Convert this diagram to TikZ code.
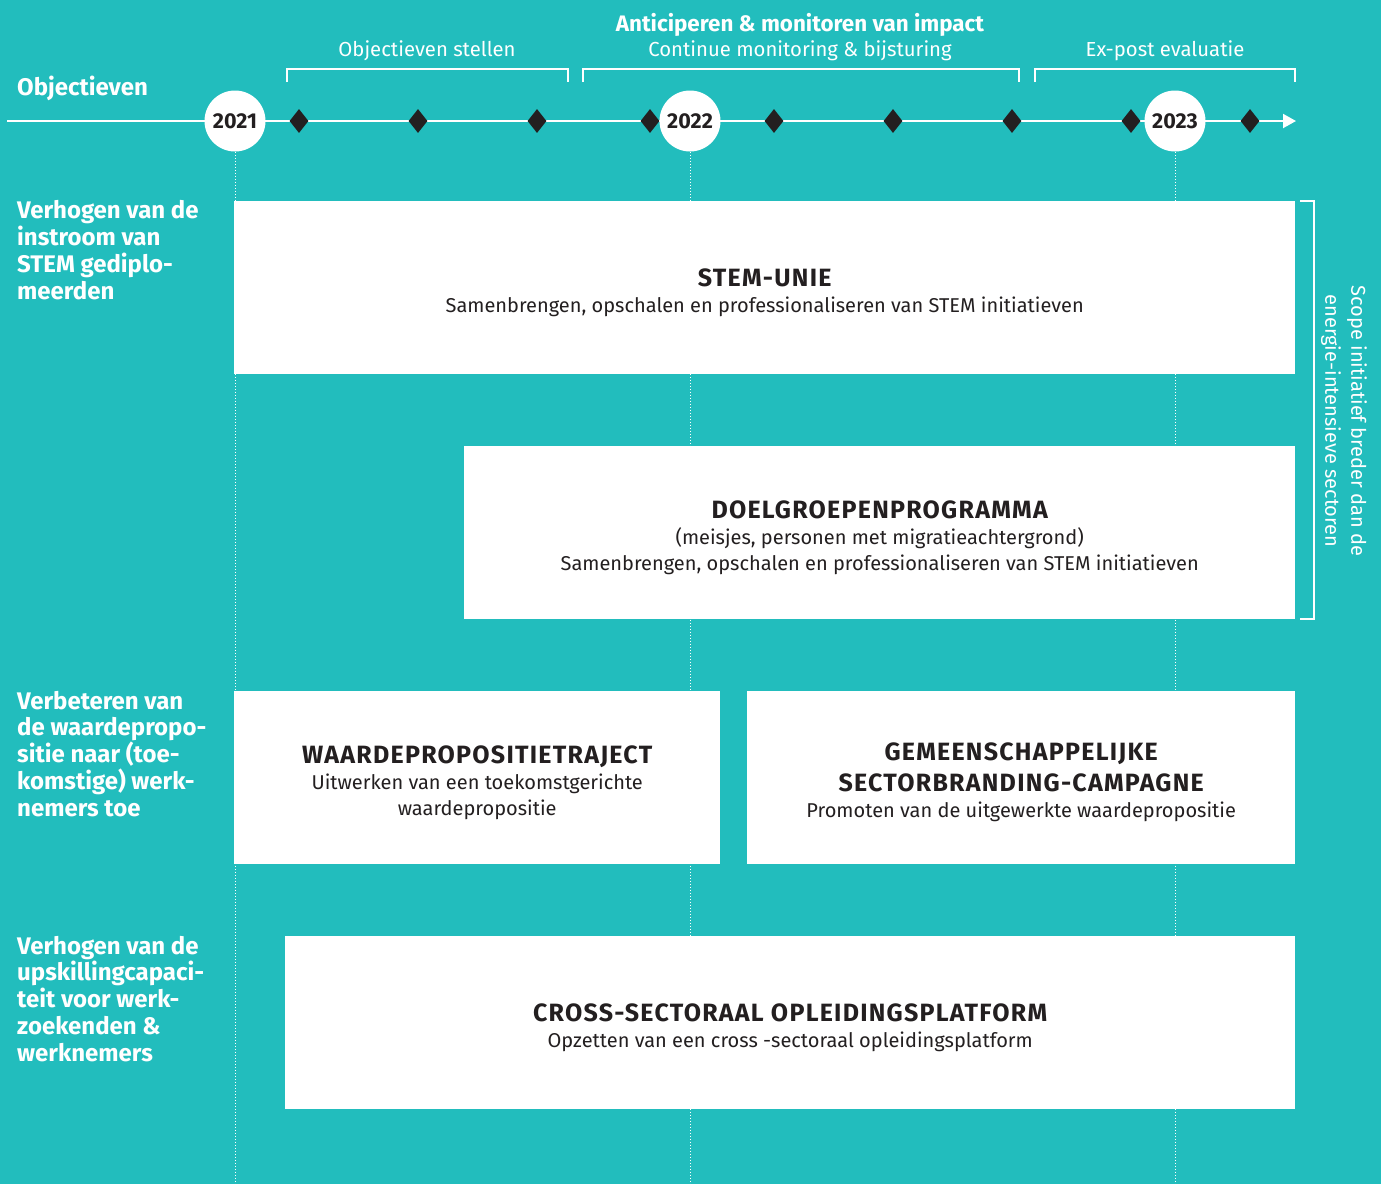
\documentclass[tikz,border=0pt]{standalone}
\usepackage{fontspec}
\setmainfont{Fira Sans}
\usetikzlibrary{shapes.geometric,arrows.meta}
\definecolor{bgteal}{HTML}{22BDBD}
\definecolor{ink}{HTML}{231F20}
\newcommand{\bodyfnt}{\fontsize{20}{26}\selectfont}
\newcommand{\ttlfnt}{\fontsize{25}{26}\selectfont\bfseries\addfontfeatures{LetterSpace=5}}
\begin{document}
\begin{tikzpicture}[x=1pt,y=-1pt,
  yearnode/.style={circle, fill=white, minimum size=61pt, inner sep=0pt, text=ink, font=\fontsize{21.5}{22}\selectfont\bfseries},
  ms/.style={diamond, fill=ink, minimum width=19pt, minimum height=24pt, inner sep=0pt},
  tline/.style={white, line width=2pt},
  guide/.style={white, line width=1pt, dash pattern=on 1pt off 2pt},
  brk/.style={white, line width=2pt},
  wbox/.style={fill=white, inner sep=0pt, anchor=north west},
  btxt/.style={inner sep=0pt, align=center, text=ink, font=\bodyfnt},
  lbl/.style={text=white, align=left, anchor=base west, inner sep=0pt, font=\fontsize{24}{26.7}\selectfont\bfseries},
  toplbl/.style={text=white, inner sep=0pt, font=\fontsize{20.3}{22}\selectfont}
]
\fill[bgteal] (0,0) rectangle (1381,1184);
\useasboundingbox (0,0) rectangle (1381,1184);

% timeline
\coordinate (tl0) at (7,121);
\coordinate (tl1) at (1296,121);
\draw[tline, -{Triangle[length=13pt,width=14pt]}] (tl0) -- (tl1);

\foreach \i/\x in {1/299,2/418,3/537,4/650,5/774,6/893,7/1012,8/1131,9/1250}
  \node[ms] (m\i) at (\x,121) {};

\node[yearnode] (y21) at (235,121) {2021};
\node[yearnode] (y22) at (690,121) {2022};
\node[yearnode] (y23) at (1175,121) {2023};

\coordinate (b21) at (235,1184);
\coordinate (b22) at (690,1184);
\coordinate (b23) at (1175,1184);
\draw[guide] (y21.south) -- (b21);
\draw[guide] (y22.south) -- (b22);
\draw[guide] (y23.south) -- (b23);

% brackets on top
\draw[brk] (287,82) -- (287,69) -- (568,69) -- (568,82);
\draw[brk] (583,82) -- (583,69) -- (1019,69) -- (1019,82);
\draw[brk] (1035,82) -- (1035,69) -- (1295,69) -- (1295,82);

\node[toplbl] (t1) at (427,51) {Objectieven stellen};
\node[toplbl, font=\fontsize{22.4}{24}\selectfont\bfseries] (t2) at (800,25) {Anticiperen \& monitoren van impact};
\node[toplbl] (t3) at (800,51) {Continue monitoring \& bijsturing};
\node[toplbl] (t4) at (1165,51) {Ex-post evaluatie};

\node[lbl] (obj) at (17,95) {Objectieven};

% left labels (base anchor = baseline of last line)
\node[lbl] (l1) at (17,299) {Verhogen van de\\instroom van\\STEM gediplo-\\meerden};
\node[lbl] (l2) at (17,816) {Verbeteren van\\de waardepropo-\\sitie naar (toe-\\komstige) werk-\\nemers toe};
\node[lbl] (l3) at (17,1061) {Verhogen van de\\upskillingcapaci-\\teit voor werk-\\zoekenden \&\\werknemers};

% boxes
\node[wbox, minimum width=1061pt, minimum height=173pt] (stem) at (234,201) {};
\node[wbox, minimum width=831pt, minimum height=173pt] (doel) at (464,446) {};
\node[wbox, minimum width=486pt, minimum height=173pt] (waarde) at (234,691) {};
\node[wbox, minimum width=548pt, minimum height=173pt] (gemeen) at (747,691) {};
\node[wbox, minimum width=1010pt, minimum height=173pt] (cross) at (285,936) {};

\node[btxt] (stemtxt) at ([yshift=-5pt]stem.center)
  {{\ttlfnt STEM-UNIE}\\Samenbrengen, opschalen en professionaliseren van STEM initiatieven};
\node[btxt] (doeltxt) at ([yshift=-5pt]doel.center)
  {{\ttlfnt DOELGROEPENPROGRAMMA}\\(meisjes, personen met migratieachtergrond)\\Samenbrengen, opschalen en professionaliseren van STEM initiatieven};
\node[btxt] (waardetxt) at ([yshift=-5pt]waarde.center)
  {{\ttlfnt WAARDEPROPOSITIETRAJECT}\\Uitwerken van een toekomstgerichte\\waardepropositie};
\node[btxt] (gemeentxt) at ([yshift=-5pt]gemeen.center)
  {{\ttlfnt GEMEENSCHAPPELIJKE}\\[5pt]{\ttlfnt SECTORBRANDING-CAMPAGNE}\\Promoten van de uitgewerkte waardepropositie};
\node[btxt] (crosstxt) at ([yshift=-5pt]cross.center)
  {{\ttlfnt CROSS-SECTORAAL OPLEIDINGSPLATFORM}\\Opzetten van een cross -sectoraal opleidingsplatform};

% right bracket
\draw[brk] (1300,201) -- (1314,201) -- (1314,619) -- (1300,619);
\node[text=white, align=center, rotate=-90, inner sep=0pt, font=\fontsize{20}{26}\selectfont] (scope) at (1344,421)
  {Scope initiatief breder dan de\\energie-intensieve sectoren};
\end{tikzpicture}
\end{document}
